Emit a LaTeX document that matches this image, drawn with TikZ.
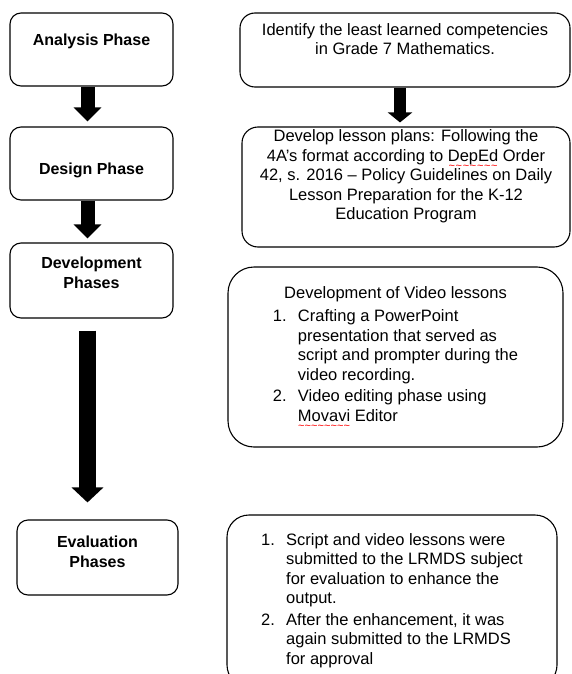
\documentclass[tikz,border=0pt]{standalone}
\usepackage{fontspec}
\setmainfont{Liberation Sans}
\usetikzlibrary{arrows.meta}
% red wavy underline of a spell checker
\newcommand\redwave[1]{\setbox0\hbox{#1}%
  \rlap{\raisebox{-8pt}[0pt][0pt]{\color{red}\hbox to \wd0{\xleaders\hbox{\fontsize{11}{11}\selectfont\textasciitilde}\hfil}}}\box0\relax}

\begin{document}
\begin{tikzpicture}[x=1pt, y=-1pt,
    every node/.style={font=\fontsize{16.5}{19.5}\selectfont},
    phase/.style={draw, line width=1.1pt, rounded corners=11pt, align=center,
      minimum width=163pt, minimum height=73pt,
      font=\fontsize{16}{19.5}\selectfont\bfseries},
    task/.style={draw, line width=1.1pt, align=center, inner sep=0pt},
    blk/.style={line width=14pt, -{Triangle[width=27pt, length=14pt]}}]

  \useasboundingbox (0,0) rectangle (571,674);

  % 1. phases on the left
  \node[phase, text depth=20pt] (ana) at (91.5,49.5) {Analysis Phase};
  \node[phase, text height=26pt] (des) at (91.5,163.5) {Design Phase};
  \node[phase, minimum height=75pt, text depth=16pt] (dev) at (91.5,280.5) {Development\\Phases};
  \node[phase, minimum width=161pt, minimum height=75pt, text depth=12pt] (eva) at (97.5,557.5) {Evaluation\\Phases};

  % 2. what was done in each phase
  \node[task, rounded corners=15pt, minimum width=330pt, minimum height=74pt, text depth=22pt] (ident) at (405,50)
    {Identify the least learned competencies\\in Grade 7 Mathematics.};
  \node[task, rounded corners=16pt, minimum width=328pt, minimum height=120pt, text depth=24pt] (plan) at (406,187)
    {Develop lesson plans: Following the\\4A's format according to \redwave{DepEd} Order\\
     42, s. 2016 -- Policy Guidelines on Daily\\Lesson Preparation for the K-12\\Education Program};
  \node[task, rounded corners=26pt, minimum width=335pt, minimum height=180pt] (video) at (395.5,357)
    {Development of Video lessons\\[5pt]
     \begin{tabular}{@{}p{25pt}@{}l@{}}
       1. & Crafting a PowerPoint\\
          & presentation that served as\\
          & script and prompter during the\\
          & video recording.\\[2pt]
       2. & Video editing phase using\\
          & \redwave{Movavi} Editor
     \end{tabular}};
  \node[task, rounded corners=22pt, minimum width=330pt, minimum height=172pt] (check) at (392,601)
    {\begin{tabular}{@{}p{25pt}@{}l@{}}
       1. & Script and video lessons were\\
          & submitted to the LRMDS subject\\
          & for evaluation to enhance the\\
          & output.\\[2pt]
       2. & After the enhancement, it was\\
          & again submitted to the LRMDS\\
          & for approval
     \end{tabular}};

  % 3. block arrows
  \foreach \a/\b/\g in {ana/des/5, des/dev/4}
    \draw[blk, shorten >=\g pt] ([xshift=-4pt]\a.south) -- ([xshift=-4pt]\b.north);
  \draw[blk, line width=17pt, -{Triangle[width=31pt, length=15pt]}, shorten <=12pt, shorten >=17pt]
    ([xshift=-4pt]dev.south) -- ([xshift=-10pt]eva.north);
  \draw[blk, line width=12pt, -{Triangle[width=24pt, length=10pt]}, shorten >=4pt]
    ([xshift=-5pt]ident.south) -- ([xshift=-6pt]plan.north);

\end{tikzpicture}
\end{document}
